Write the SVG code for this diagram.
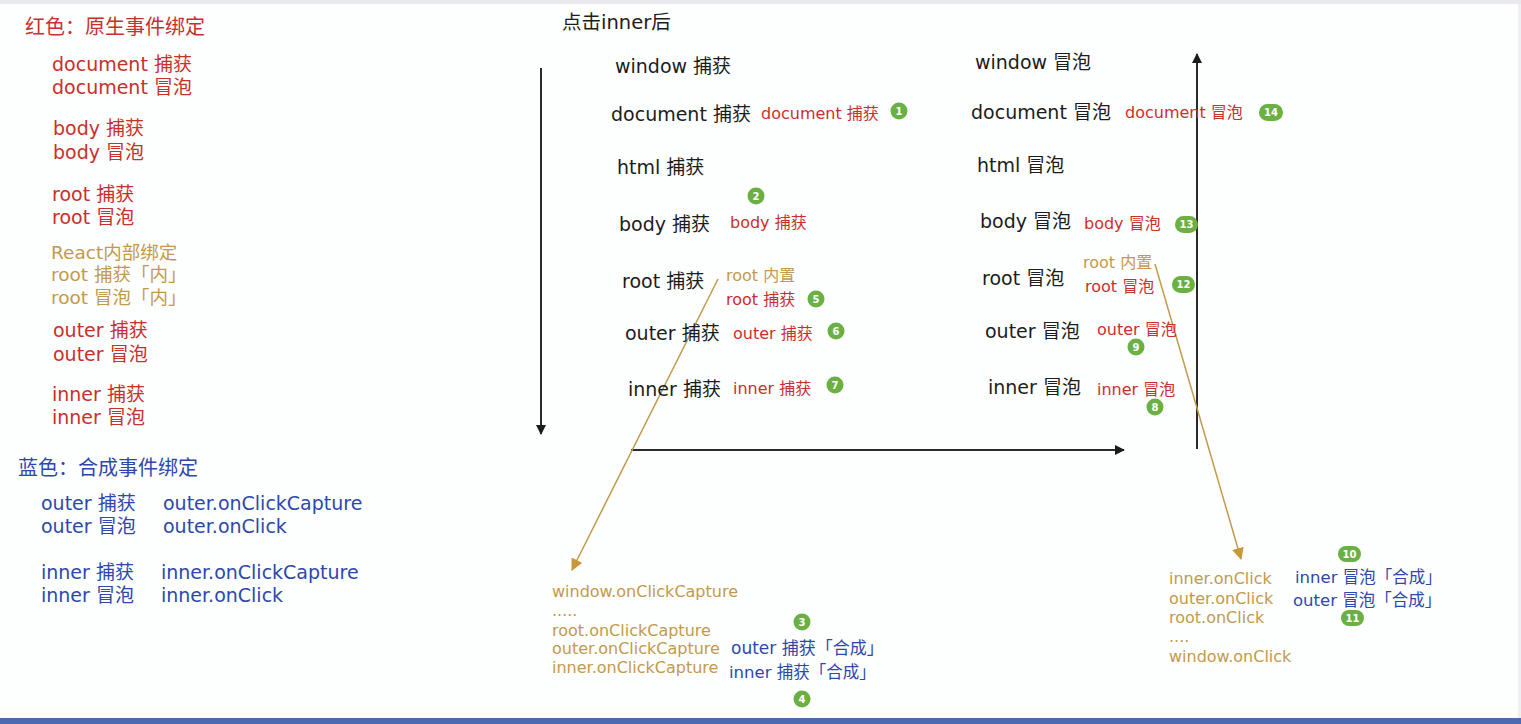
<svg xmlns="http://www.w3.org/2000/svg" width="1521" height="724" viewBox="0 0 1521 724">
<defs>
<style>
text{font-family:"DejaVu Sans","Noto Sans CJK SC",sans-serif}
.k{fill:#1c1c1c;font-size:19px}
.r{fill:#c8302b;font-size:19px}
.rs{fill:#cc2f2b;font-size:16px}
.o{fill:#c39a4c;font-size:18.5px}
.os{fill:#c39a4c;font-size:16px}
.b{fill:#2f47ad;font-size:19px}
.bs{fill:#2f47ad;font-size:16.5px}
.h{font-size:20px}
.g{fill:#6bb043}
.gt{fill:#ffffff;font-size:10px;text-anchor:middle;font-weight:bold}
.ax{stroke:#2a2a2a;stroke-width:2;fill:none}
.ol{stroke:#c39a4c;stroke-width:1.5;fill:none}
</style>
<marker id="ka" markerWidth="10" markerHeight="10" refX="9" refY="5" orient="auto" markerUnits="userSpaceOnUse" viewBox="0 0 10 10"><path d="M0,0 L10,5 L0,10 z" fill="#1c1c1c"/></marker>
<marker id="oa" markerWidth="12" markerHeight="12" refX="11" refY="6" orient="auto" markerUnits="userSpaceOnUse" viewBox="0 0 12 12"><path d="M0,0 L12,6 L0,12 z" fill="#c9973a"/></marker>
</defs>
<rect width="1521" height="724" fill="#fdfefe"/>
<rect x="0" y="0" width="1521" height="4" fill="#e9e9ee"/>
<rect x="0" y="718" width="1521" height="6" fill="#4b6aaf"/>
<rect x="1518" y="4" width="3" height="714" fill="#eef0f4"/>

<g id="legend-native">
<text class="r h" x="25" y="34">红色：原生事件绑定</text>
<text class="r" x="52" y="71">document 捕获</text>
<text class="r" x="52" y="94">document 冒泡</text>
<text class="r" x="53" y="135">body 捕获</text>
<text class="r" x="53" y="159">body 冒泡</text>
<text class="r" x="52" y="201">root 捕获</text>
<text class="r" x="52" y="224">root 冒泡</text>
<text class="o" x="51" y="259">React内部绑定</text>
<text class="o" x="51" y="281">root 捕获「内」</text>
<text class="o" x="51" y="304">root 冒泡「内」</text>
<text class="r" x="53" y="337">outer 捕获</text>
<text class="r" x="53" y="361">outer 冒泡</text>
<text class="r" x="52" y="401">inner 捕获</text>
<text class="r" x="52" y="424">inner 冒泡</text>
</g>

<g id="legend-synthetic">
<text class="b h" x="18" y="475">蓝色：合成事件绑定</text>
<text class="b" x="41" y="510">outer 捕获</text>
<text class="b" x="163" y="510">outer.onClickCapture</text>
<text class="b" x="41" y="533">outer 冒泡</text>
<text class="b" x="163" y="533">outer.onClick</text>
<text class="b" x="41" y="579">inner 捕获</text>
<text class="b" x="161" y="579">inner.onClickCapture</text>
<text class="b" x="41" y="602">inner 冒泡</text>
<text class="b" x="161" y="602">inner.onClick</text>
</g>

<g id="title"><text class="k" x="562" y="29" style="font-size:19.5px">点击inner后</text></g>

<g id="connectors">
<line class="ax" x1="541" y1="68" x2="541" y2="434" marker-end="url(#ka)"/>
<line class="ax" x1="631" y1="450" x2="1124" y2="450" marker-end="url(#ka)"/>
<line class="ax" x1="1197" y1="449" x2="1197" y2="54" marker-end="url(#ka)"/>
<line class="ol" x1="718" y1="279" x2="572" y2="570" marker-end="url(#oa)"/>
<line class="ol" x1="1155" y1="264" x2="1241" y2="559" marker-end="url(#oa)"/>
</g>

<g id="capture-phase">
<text class="k" x="615" y="73">window 捕获</text>
<text class="k" x="611" y="121">document 捕获</text>
<text class="k" x="617" y="174">html 捕获</text>
<text class="k" x="619" y="231">body 捕获</text>
<text class="k" x="622" y="288">root 捕获</text>
<text class="k" x="625" y="340">outer 捕获</text>
<text class="k" x="628" y="396">inner 捕获</text>
</g>

<g id="capture-native">
<text class="rs" x="761" y="119">document 捕获</text>
<text class="rs" x="730" y="228">body 捕获</text>
<text class="os" x="726" y="281">root 内置</text>
<text class="rs" x="726" y="305">root 捕获</text>
<text class="rs" x="733" y="339">outer 捕获</text>
<text class="rs" x="733" y="394">inner 捕获</text>
</g>

<g id="bubble-phase">
<text class="k" x="975" y="69">window 冒泡</text>
<text class="k" x="971" y="119">document 冒泡</text>
<text class="k" x="977" y="172">html 冒泡</text>
<text class="k" x="980" y="228">body 冒泡</text>
<text class="k" x="982" y="285">root 冒泡</text>
<text class="k" x="985" y="338">outer 冒泡</text>
<text class="k" x="988" y="394">inner 冒泡</text>
</g>

<g id="bubble-native">
<text class="rs" x="1125" y="118">document 冒泡</text>
<text class="rs" x="1084" y="229">body 冒泡</text>
<text class="os" x="1083" y="268">root 内置</text>
<text class="rs" x="1085" y="292">root 冒泡</text>
<text class="rs" x="1097" y="335">outer 冒泡</text>
<text class="rs" x="1097" y="395">inner 冒泡</text>
</g>

<g id="capture-synthetic">
<text class="os" x="552" y="597">window.onClickCapture</text>
<text class="os" x="552" y="616">.....</text>
<text class="os" x="552" y="636">root.onClickCapture</text>
<text class="os" x="552" y="654">outer.onClickCapture</text>
<text class="os" x="552" y="673">inner.onClickCapture</text>
<text class="bs" x="731" y="654" style="font-size:17px">outer 捕获「合成」</text>
<text class="bs" x="729" y="678">inner 捕获「合成」</text>
</g>

<g id="bubble-synthetic">
<text class="os" x="1169" y="584">inner.onClick</text>
<text class="os" x="1169" y="604">outer.onClick</text>
<text class="os" x="1169" y="623">root.onClick</text>
<text class="os" x="1169" y="642">....</text>
<text class="os" x="1169" y="662">window.onClick</text>
<text class="bs" x="1295" y="583">inner 冒泡「合成」</text>
<text class="bs" x="1293" y="606">outer 冒泡「合成」</text>
</g>

<g id="badges">
<circle class="g" cx="899" cy="111" r="8.5"/><text class="gt" x="899" y="114.5">1</text>
<circle class="g" cx="756" cy="196" r="8.5"/><text class="gt" x="756" y="199.5">2</text>
<circle class="g" cx="802" cy="622" r="8.5"/><text class="gt" x="802" y="625.5">3</text>
<circle class="g" cx="802" cy="699" r="8.5"/><text class="gt" x="802" y="702.5">4</text>
<circle class="g" cx="816" cy="299" r="8.5"/><text class="gt" x="816" y="302.5">5</text>
<circle class="g" cx="836" cy="331" r="8.5"/><text class="gt" x="836" y="334.5">6</text>
<circle class="g" cx="835" cy="385" r="8.5"/><text class="gt" x="835" y="388.5">7</text>
<circle class="g" cx="1155" cy="407" r="8.5"/><text class="gt" x="1155" y="410.5">8</text>
<circle class="g" cx="1136" cy="347" r="8.5"/><text class="gt" x="1136" y="350.5">9</text>
<rect class="g" x="1338" y="546" width="23" height="16" rx="8"/><text class="gt" x="1349.5" y="557.5">10</text>
<rect class="g" x="1341" y="610" width="23" height="16" rx="8"/><text class="gt" x="1352.5" y="621.5">11</text>
<rect class="g" x="1172" y="276" width="23" height="17" rx="8.5"/><text class="gt" x="1183.5" y="288">12</text>
<rect class="g" x="1175" y="216" width="23" height="17" rx="8.5"/><text class="gt" x="1186.5" y="228">13</text>
<rect class="g" x="1259" y="104" width="24" height="17" rx="8.5"/><text class="gt" x="1271" y="116">14</text>
</g>
</svg>
